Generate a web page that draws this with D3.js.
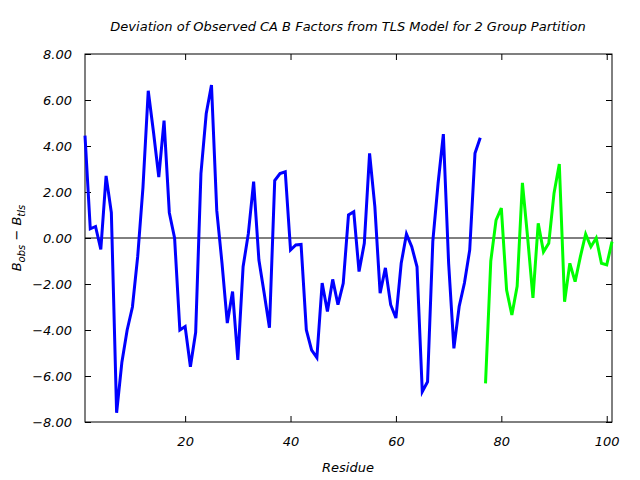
<!DOCTYPE html>
<html>
<head>
    <meta charset="utf-8">
    <title>Deviation of Observed CA B Factors</title>
    <script type="text/javascript" src="https://d3js.org/d3.v7.min.js"></script>
    <style>
        body { margin: 0; background: #fff; }
        text { font-family: "DejaVu Sans", sans-serif; font-style: italic; fill: #000; }
        .frame { fill: none; stroke: #000; stroke-width: 1px; }
        .tick line { stroke: #000; }
        .series { fill: none; stroke-width: 3px; stroke-linejoin: miter; }
    </style>
</head>
<body>
<script type="text/javascript">
    // group 1: residues 1-76, group 2: residues 77-101
    var group1Start = 1;
    var group1Values = [4.45, 0.4, 0.5, -0.5, 2.7, 1.1, -7.6, -5.4, -4.0, -3.0,
        -0.8, 2.2, 6.4, 4.6, 2.65, 5.1, 1.1, 0.0, -4.0, -3.85,
        -5.6, -4.1, 2.8, 5.4, 6.65, 1.2, -1.1, -3.7, -2.33, -5.3,
        -1.25, 0.2, 2.45, -0.96, -2.4, -3.9, 2.5, 2.8, 2.88, -0.52,
        -0.3, -0.28, -4.0, -4.87, -5.2, -1.96, -3.2, -1.8, -2.9, -1.97,
        1.0, 1.14, -1.46, -0.23, 3.68, 1.36, -2.4, -1.3, -2.9, -3.48,
        -1.1, 0.17, -0.38, -1.25, -6.68, -6.25, -0.15, 2.38, 4.52, -1.1,
        -4.8, -2.98, -1.96, -0.52, 3.68, 4.36];
    var group2Start = 77;
    var group2Values = [-6.32, -1.0, 0.78, 1.3, -2.26, -3.35, -2.1, 2.4, 0.0, -2.6,
        0.64, -0.6, -0.23, 1.95, 3.22, -2.77, -1.1, -1.9, -0.81, 0.17,
        -0.38, 0.0, -1.1, -1.17, -0.16];
    var xTicks = [20, 40, 60, 80, 100];
    var yTicks = [-8, -6, -4, -2, 0, 2, 4, 6, 8];

    var width = 640, height = 480;
    var margin = {top: 54, right: 28, bottom: 58, left: 85};

    var svg = d3.select("body").append("svg")
            .attr("width", width)
            .attr("height", height);

    var x = d3.scaleLinear().domain([1, 101]).range([margin.left, width - margin.right]);
    var y = d3.scaleLinear().domain([-8, 8]).range([height - margin.bottom, margin.top]);

    // ticks on all four sides, pointing inward
    svg.append("g")
            .attr("transform", "translate(0," + y(-8) + ")")
            .call(d3.axisBottom(x).tickValues(xTicks).tickSizeInner(-6).tickSizeOuter(0)
                    .tickFormat(d3.format("d")).tickPadding(15))
            .call(function (g) { g.select(".domain").remove(); })
            .selectAll("text").style("font-size", "13px");
    svg.append("g")
            .attr("transform", "translate(0," + y(8) + ")")
            .call(d3.axisTop(x).tickValues(xTicks).tickSizeInner(-6).tickSizeOuter(0).tickFormat(""))
            .call(function (g) { g.select(".domain").remove(); });
    svg.append("g")
            .attr("transform", "translate(" + x(1) + ",0)")
            .call(d3.axisLeft(y).tickValues(yTicks).tickSizeInner(-6).tickSizeOuter(0)
                    .tickFormat(d3.format(".2f")).tickPadding(13))
            .call(function (g) { g.select(".domain").remove(); })
            .selectAll("text").style("font-size", "13px");
    svg.append("g")
            .attr("transform", "translate(" + x(101) + ",0)")
            .call(d3.axisRight(y).tickValues(yTicks).tickSizeInner(-6).tickSizeOuter(0).tickFormat(""))
            .call(function (g) { g.select(".domain").remove(); });

    svg.append("rect").attr("class", "frame")
            .attr("x", x(1)).attr("y", y(8))
            .attr("width", x(101) - x(1)).attr("height", y(-8) - y(8));

    // zero line
    svg.append("line")
            .attr("x1", x(1)).attr("x2", x(101))
            .attr("y1", y(0)).attr("y2", y(0))
            .attr("stroke", "#000").attr("stroke-width", 1);

    var line = d3.line()
            .x(function (d) { return x(d[0]); })
            .y(function (d) { return y(d[1]); });

    function toPoints(start, values) {
        return values.map(function (v, i) { return [start + i, v]; });
    }

    svg.append("path").attr("class", "series")
            .attr("stroke", "#0000ff")
            .attr("d", line(toPoints(group1Start, group1Values)));
    svg.append("path").attr("class", "series")
            .attr("stroke", "#00ff00")
            .attr("d", line(toPoints(group2Start, group2Values)));

    svg.append("text")
            .attr("x", 348).attr("y", 31)
            .attr("text-anchor", "middle")
            .style("font-size", "13px")
            .text("Deviation of Observed CA B Factors from TLS Model for 2 Group Partition");

    svg.append("text")
            .attr("x", 348).attr("y", 472)
            .attr("text-anchor", "middle")
            .style("font-size", "13px")
            .text("Residue");

    var ylab = svg.append("text")
            .attr("transform", "translate(21,238) rotate(-90)")
            .attr("text-anchor", "middle")
            .style("font-size", "13px");
    ylab.append("tspan").text("B");
    ylab.append("tspan").attr("dy", 4).style("font-size", "10px").text("obs");
    ylab.append("tspan").attr("dy", -4).text(" \u2212 B");
    ylab.append("tspan").attr("dy", 4).style("font-size", "10px").text("tls");
</script>
</body>
</html>
